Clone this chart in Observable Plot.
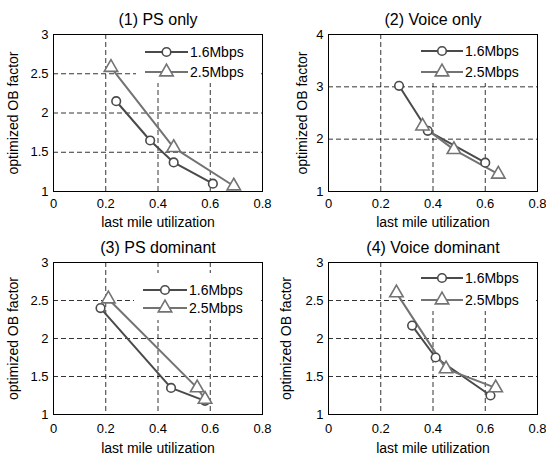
<!DOCTYPE html>
<html><head><meta charset="utf-8">
<script src="https://cdn.jsdelivr.net/npm/d3@7"></script>
<script src="https://cdn.jsdelivr.net/npm/@observablehq/plot@0.6"></script>
<style>
body{margin:0;background:#fff;}
#wrap{position:relative;width:546px;height:456px;overflow:hidden;background:#fff;font-family:"Liberation Sans",Arial,sans-serif;}
.panel{position:absolute;width:273px;height:228px;overflow:visible;}
</style></head><body><div id="wrap"></div>
<script>
// ---- data ----
const titles = ["(1) PS only", "(2) Voice only", "(3) PS dominant", "(4) Voice dominant"];
const seriesNames = ["1.6Mbps", "2.5Mbps"];
const xLabel = "last mile utilization";
const yLabel = "optimized OB factor";
const xTicks = [0, 0.2, 0.4, 0.6, 0.8];
const yTicksA = [1, 1.5, 2, 2.5, 3];
const yTicksB = [1, 2, 3, 4];

const p1_16_x = [0.24, 0.37, 0.46, 0.61];
const p1_16_y = [2.15, 1.65, 1.37, 1.10];
const p1_25_x = [0.22, 0.46, 0.69];
const p1_25_y = [2.58, 1.56, 1.07];

const p2_16_x = [0.27, 0.38, 0.60];
const p2_16_y = [3.02, 2.16, 1.55];
const p2_25_x = [0.36, 0.48, 0.65];
const p2_25_y = [2.25, 1.80, 1.33];

const p3_16_x = [0.18, 0.45, 0.58];
const p3_16_y = [2.40, 1.35, 1.18];
const p3_25_x = [0.21, 0.55, 0.58];
const p3_25_y = [2.52, 1.35, 1.20];

const p4_16_x = [0.32, 0.41, 0.62];
const p4_16_y = [2.17, 1.75, 1.25];
const p4_25_x = [0.26, 0.45, 0.64];
const p4_25_y = [2.60, 1.60, 1.35];

const colors = ["#4a4a4a", "#737373"];

function rows(xs, ys, s) { return xs.map((x, i) => ({x, y: ys[i], s})); }

const panels = [
  {title: titles[0], yTicks: yTicksA, a: rows(p1_16_x, p1_16_y, seriesNames[0]), b: rows(p1_25_x, p1_25_y, seriesNames[1]),
   left: 0, top: 0, m: [34, 11, 37, 53], xlabDy: 31, ylabDx: -40, tickPad: 7,
   leg: {y: [52, 72], x0: 145, x1: 188, tx: 190, box: [136, 35, 125, 48]}},
  {title: titles[1], yTicks: yTicksB, a: rows(p2_16_x, p2_16_y, seriesNames[0]), b: rows(p2_25_x, p2_25_y, seriesNames[1]),
   left: 273, top: 0, m: [34, 9, 37, 55], xlabDy: 31, ylabDx: -26, tickPad: 7,
   leg: {y: [51, 72], x0: 148, x1: 190, tx: 192, box: [140, 35, 123, 48]}},
  {title: titles[2], yTicks: yTicksA, a: rows(p3_16_x, p3_16_y, seriesNames[0]), b: rows(p3_25_x, p3_25_y, seriesNames[1]),
   left: 0, top: 228, m: [34, 11, 42, 53], xlabDy: 34, ylabDx: -40, tickPad: 9,
   leg: {y: [62, 80], x0: 143, x1: 187, tx: 189, box: [134, 45, 127, 47]}},
  {title: titles[3], yTicks: yTicksA, a: rows(p4_16_x, p4_16_y, seriesNames[0]), b: rows(p4_25_x, p4_25_y, seriesNames[1]),
   left: 273, top: 228, m: [34, 9, 42, 55], xlabDy: 34, ylabDx: -42, tickPad: 9,
   leg: {y: [50, 72], x0: 148, x1: 190, tx: 192, box: [140, 35, 123, 48]}}
];

const wrap = document.getElementById("wrap");
const font = '"Liberation Sans", Arial, sans-serif';

panels.forEach(p => {
  const yDom = [p.yTicks[0], p.yTicks[p.yTicks.length - 1]];
  const plot = Plot.plot({
    width: 273, height: 228,
    marginTop: p.m[0], marginRight: p.m[1], marginBottom: p.m[2], marginLeft: p.m[3],
    x: {domain: [0, 0.8]},
    y: {domain: yDom},
    color: {domain: seriesNames, range: colors},
    style: {fontFamily: font, fontSize: "13px", background: "transparent", color: "black", overflow: "visible"},
    marks: [
      Plot.gridX(xTicks.slice(1, -1), {stroke: "black", strokeOpacity: 1, strokeWidth: 0.8, strokeDasharray: "5,3"}),
      Plot.gridY(p.yTicks.slice(1, -1), {stroke: "black", strokeOpacity: 1, strokeWidth: 0.8, strokeDasharray: "5,3"}),
      Plot.axisX(xTicks, {tickSize: 0, tickPadding: p.tickPad, fontSize: 13, label: null, tickFormat: d => String(d)}),
      Plot.axisY(p.yTicks, {tickSize: 0, tickPadding: 5, fontSize: 13, label: null, tickFormat: d => String(d)}),
      Plot.frame({stroke: "black", strokeWidth: 1}),
      Plot.text([p.title], {frameAnchor: "top", dy: -15, lineAnchor: "middle", fontSize: 16, text: d => d}),
      Plot.text([xLabel], {frameAnchor: "bottom", dy: p.xlabDy, lineAnchor: "middle", fontSize: 14, text: d => d}),
      Plot.text([yLabel], {frameAnchor: "left", dx: p.ylabDx, rotate: -90, textAnchor: "middle", lineAnchor: "middle", fontSize: 14, text: d => d}),
      Plot.line(p.a, {x: "x", y: "y", stroke: "s", strokeWidth: 2}),
      Plot.line(p.b, {x: "x", y: "y", stroke: "s", strokeWidth: 2}),
      Plot.dot(p.a, {x: "x", y: "y", stroke: "s", symbol: "circle", r: 4.3, fill: "white", strokeWidth: 1.6}),
      Plot.dot(p.b, {x: "x", y: "y", stroke: "s", symbol: "triangle", r: 5, fill: "white", strokeWidth: 1.6})
    ]
  });
  // legend (drawn inside the axes, MATLAB style)
  const svg = d3.select(plot);
  const g = svg.append("g").attr("text-anchor", "start");
  const L = p.leg;
  g.append("rect").attr("x", L.box[0]).attr("y", L.box[1]).attr("width", L.box[2]).attr("height", L.box[3]).attr("fill", "white");
  seriesNames.forEach((name, i) => {
    const y = L.y[i];
    const cx = (L.x0 + L.x1) / 2;
    g.append("line").attr("x1", L.x0).attr("x2", L.x1).attr("y1", y).attr("y2", y)
      .attr("stroke", colors[i]).attr("stroke-width", 2);
    const sym = d3.symbol().type(i === 0 ? d3.symbolCircle : d3.symbolTriangle).size(i === 0 ? Math.PI * 4.3 * 4.3 : Math.PI * 25);
    g.append("path").attr("d", sym()).attr("transform", `translate(${cx},${y})`)
      .attr("fill", "white").attr("stroke", colors[i]).attr("stroke-width", 1.6);
    g.append("text").attr("x", L.tx).attr("y", y).attr("dy", "0.35em").attr("text-anchor", "start")
      .attr("font-size", 14).attr("font-family", font).attr("fill", "black").text(name);
  });
  const div = document.createElement("div");
  div.className = "panel";
  div.style.left = p.left + "px";
  div.style.top = p.top + "px";
  div.appendChild(plot);
  wrap.appendChild(div);
});
</script>
</body></html>
